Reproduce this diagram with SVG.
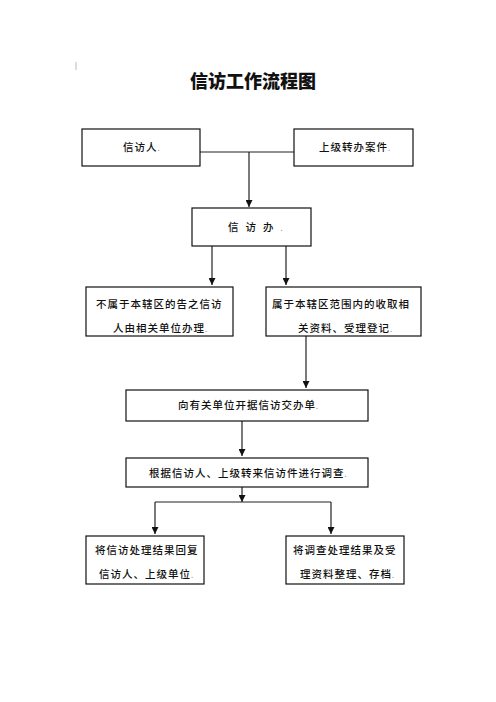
<svg xmlns="http://www.w3.org/2000/svg" width="496" height="702" viewBox="0 0 496 702">
<style>
.box{fill:#fff;stroke:#111;stroke-width:1.2}
.t{font-family:"Noto Sans CJK SC","Noto Sans CJK TC",sans-serif;font-size:10.5px;font-weight:500;letter-spacing:1px;fill:#111}
.m{fill:#999;font-size:7px}
.ln{fill:none;stroke:#222;stroke-width:1.2}
.title{font-family:"Noto Sans CJK SC",sans-serif;font-size:18px;font-weight:900;fill:#111;text-anchor:middle}
</style>
<defs>
<marker id="ah" viewBox="0 0 8 8" refX="8" refY="4" markerWidth="7" markerHeight="7" markerUnits="userSpaceOnUse" orient="auto">
<path d="M0,0 L8,4 L0,8 z" fill="#111"/>
</marker>
</defs>
<rect width="496" height="702" fill="#fff"/>
<line x1="76" y1="62" x2="76" y2="70" stroke="#bbb" stroke-width="1"/>
<text class="title" x="253" y="88">信访工作流程图</text>

<g id="connectors">
<path class="ln" d="M200,152 H294"/>
<path class="ln" d="M249,152 V207" marker-end="url(#ah)"/>
<path class="ln" d="M212,246 V285" marker-end="url(#ah)"/>
<path class="ln" d="M286,246 V285" marker-end="url(#ah)"/>
<path class="ln" d="M306,336 V388" marker-end="url(#ah)"/>
<path class="ln" d="M242,421 V456" marker-end="url(#ah)"/>
<path class="ln" d="M242,487 V502" marker-end="url(#ah)"/>
<path class="ln" d="M155,502 H331"/>
<path class="ln" d="M155,502 V534" marker-end="url(#ah)"/>
<path class="ln" d="M331,502 V534" marker-end="url(#ah)"/>
</g>

<g id="n1">
<rect class="box" x="82" y="129" width="118" height="37"/>
<text class="t" x="123" y="151">信访人<tspan class="m">.</tspan></text>
</g>
<g id="n2">
<rect class="box" x="294" y="129" width="119" height="37"/>
<text class="t" x="319" y="151">上级转办案件<tspan class="m">.</tspan></text>
</g>
<g id="n3">
<rect class="box" x="192" y="208" width="119" height="38"/>
<text class="t" x="228" y="231" style="letter-spacing:7px">信访办<tspan class="m" style="letter-spacing:0">.</tspan></text>
</g>
<g id="n4">
<rect class="box" x="86" y="287" width="147" height="49"/>
<text class="t" x="96" y="308">不属于本辖区的告之信访</text>
<text class="t" x="113" y="332">人由相关单位办理<tspan class="m">.</tspan></text>
</g>
<g id="n5">
<rect class="box" x="266" y="287" width="155" height="49"/>
<text class="t" x="272" y="308">属于本辖区范围内的收取相</text>
<text class="t" x="298" y="332">关资料、受理登记<tspan class="m">.</tspan></text>
</g>
<g id="n6">
<rect class="box" x="126" y="390" width="242" height="31"/>
<text class="t" x="178" y="409">向有关单位开据信访交办单<tspan class="m">.</tspan></text>
</g>
<g id="n7">
<rect class="box" x="126" y="458" width="242" height="29"/>
<text class="t" x="149" y="477">根据信访人、上级转来信访件进行调查<tspan class="m">.</tspan></text>
</g>
<g id="n8">
<rect class="box" x="86" y="536" width="118" height="48"/>
<text class="t" x="95" y="554">将信访处理结果回复</text>
<text class="t" x="99" y="578">信访人、上级单位<tspan class="m">.</tspan></text>
</g>
<g id="n9">
<rect class="box" x="286" y="536" width="118" height="48"/>
<text class="t" x="293" y="554">将调查处理结果及受</text>
<text class="t" x="300" y="578">理资料整理、存档<tspan class="m">.</tspan></text>
</g>
</svg>
